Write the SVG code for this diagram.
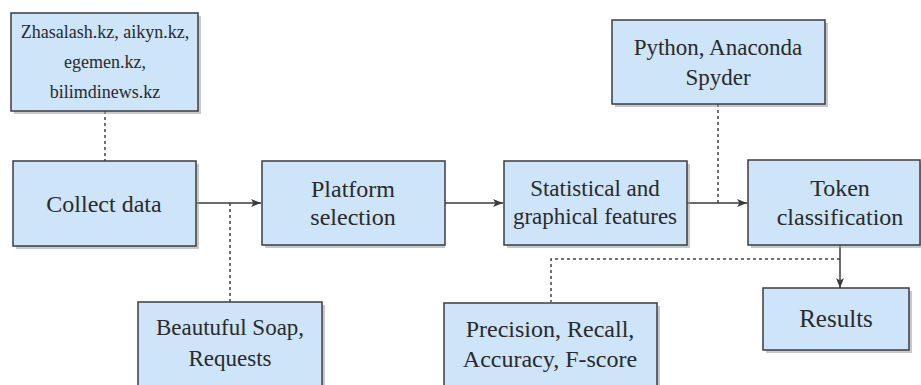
<svg xmlns="http://www.w3.org/2000/svg" width="921" height="385" viewBox="0 0 921 385">
<defs>
<style>
.box{fill:#cde4f9;stroke:#3a3d40;stroke-width:1.5}
.sh{fill:#9a9a9a;opacity:0.55}
.conn{fill:none;stroke:#3a3a3a;stroke-width:1.5}
.dash{fill:none;stroke:#444;stroke-width:1.5;stroke-dasharray:3 3}
svg text, g text, text{font-family:'Liberation Serif',serif !important;fill:#2a2a2a;text-anchor:middle}
</style>
<marker id="arr" viewBox="0 0 10 8" refX="10" refY="4" markerWidth="10" markerHeight="8" markerUnits="userSpaceOnUse" orient="auto">
<path d="M0,0 L10,4 L0,8 L2.5,4 z" fill="#3a3a3a"/>
</marker>
</defs>
<rect width="921" height="385" fill="#ffffff"/>

<g id="connectors">
<line class="dash" x1="105" y1="111" x2="105" y2="161"/>
<line class="dash" x1="230" y1="203" x2="230" y2="302"/>
<line class="dash" x1="718" y1="104" x2="718" y2="203"/>
<polyline class="dash" points="840,259 551,259 551,302"/>
<line class="conn" x1="196" y1="203" x2="261" y2="203" marker-end="url(#arr)"/>
<line class="conn" x1="445" y1="203" x2="503" y2="203" marker-end="url(#arr)"/>
<line class="conn" x1="687" y1="203" x2="747" y2="203" marker-end="url(#arr)"/>
<line class="conn" x1="840" y1="245" x2="840" y2="288" marker-end="url(#arr)"/>
</g>

<g id="sources">
<rect class="sh" x="14" y="16" width="187" height="98"/>
<rect class="box" x="11" y="13" width="187" height="98"/>
<text style="font-family:'Liberation Serif',serif" font-size="18" x="105" y="38">Zhasalash.kz, aikyn.kz,</text>
<text style="font-family:'Liberation Serif',serif" font-size="18" x="105" y="68">egemen.kz,</text>
<text style="font-family:'Liberation Serif',serif" font-size="18" x="105" y="98">bilimdinews.kz</text>
</g>

<g id="collect">
<rect class="sh" x="16" y="164" width="183" height="85"/>
<rect class="box" x="13" y="161" width="183" height="85"/>
<text style="font-family:'Liberation Serif',serif" font-size="24" x="104" y="212">Collect data</text>
</g>

<g id="platform">
<rect class="sh" x="265" y="164" width="180" height="84"/>
<rect class="box" x="262" y="161" width="183" height="84"/>
<text style="font-family:'Liberation Serif',serif" font-size="24" x="353" y="197">Platform</text>
<text style="font-family:'Liberation Serif',serif" font-size="24" x="353" y="225">selection</text>
</g>

<g id="features">
<rect class="sh" x="507" y="164" width="183" height="84"/>
<rect class="box" x="504" y="161" width="183" height="84"/>
<text style="font-family:'Liberation Serif',serif" font-size="23" x="595" y="196">Statistical and</text>
<text style="font-family:'Liberation Serif',serif" font-size="23" x="595" y="224">graphical features</text>
</g>

<g id="python">
<rect class="sh" x="615" y="23" width="213" height="84"/>
<rect class="box" x="612" y="20" width="213" height="84"/>
<text style="font-family:'Liberation Serif',serif" font-size="23" x="718" y="55">Python, Anaconda</text>
<text style="font-family:'Liberation Serif',serif" font-size="23" x="718" y="85">Spyder</text>
</g>

<g id="token">
<rect class="sh" x="751" y="163" width="175" height="85"/>
<rect class="box" x="748" y="160" width="172" height="85"/>
<text style="font-family:'Liberation Serif',serif" font-size="24" x="840" y="196">Token</text>
<text style="font-family:'Liberation Serif',serif" font-size="24" x="840" y="225">classification</text>
</g>

<g id="results">
<rect class="sh" x="766" y="291" width="146" height="62"/>
<rect class="box" x="763" y="288" width="146" height="62"/>
<text style="font-family:'Liberation Serif',serif" font-size="25" x="836" y="327">Results</text>
</g>

<g id="soap">
<rect class="sh" x="141" y="305" width="184" height="90"/>
<rect class="box" x="138" y="302" width="184" height="90"/>
<text style="font-family:'Liberation Serif',serif" font-size="23" x="230" y="335">Beautuful Soap,</text>
<text style="font-family:'Liberation Serif',serif" font-size="23" x="230" y="366">Requests</text>
</g>

<g id="metrics">
<rect class="sh" x="447" y="306" width="213" height="90"/>
<rect class="box" x="444" y="303" width="213" height="90"/>
<text style="font-family:'Liberation Serif',serif" font-size="24" x="550" y="337">Precision, Recall,</text>
<text style="font-family:'Liberation Serif',serif" font-size="24" x="550" y="367">Accuracy, F-score</text>
</g>
</svg>
